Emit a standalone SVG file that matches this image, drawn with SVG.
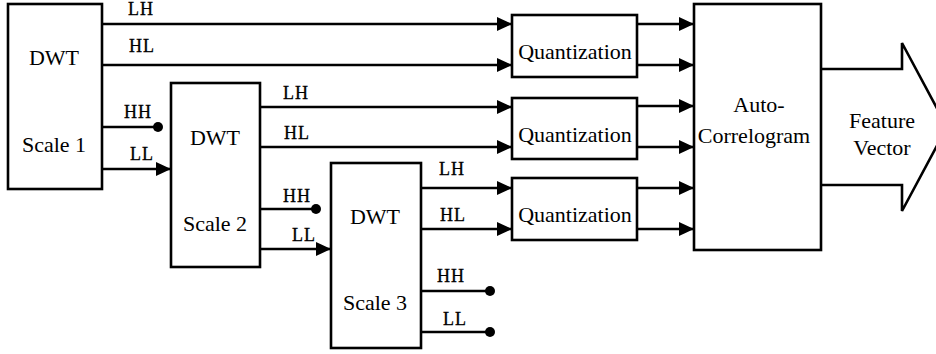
<svg xmlns="http://www.w3.org/2000/svg" width="936" height="354" viewBox="0 0 936 354" font-family="Liberation Serif, Times New Roman, DejaVu Serif, serif">
<style>
.box{fill:#fff;stroke:#000;stroke-width:2.6}
.ln{stroke:#000;stroke-width:2.6;fill:none}
.t{font-size:22px;text-anchor:middle;fill:#000}
.lb{font-size:18px;letter-spacing:1px;fill:#000;stroke:#000;stroke-width:0.3}
</style>
<defs>
<marker id="arr" markerUnits="userSpaceOnUse" markerWidth="16" markerHeight="14" refX="15" refY="7" orient="auto">
<path d="M0,0 L15,7 L0,14 Z" fill="#000"/>
</marker>
<marker id="dot" markerUnits="userSpaceOnUse" markerWidth="12" markerHeight="12" refX="6" refY="6">
<circle cx="6" cy="6" r="5" fill="#000"/>
</marker>
</defs>
<g id="connectors">
<line class="ln" x1="102" y1="24" x2="512" y2="24" marker-end="url(#arr)"/>
<line class="ln" x1="102" y1="65" x2="512" y2="65" marker-end="url(#arr)"/>
<line class="ln" x1="102" y1="127" x2="158" y2="127" marker-end="url(#dot)"/>
<line class="ln" x1="102" y1="169" x2="171" y2="169" marker-end="url(#arr)"/>
<line class="ln" x1="260" y1="107" x2="512" y2="107" marker-end="url(#arr)"/>
<line class="ln" x1="260" y1="147" x2="512" y2="147" marker-end="url(#arr)"/>
<line class="ln" x1="260" y1="209" x2="316" y2="209" marker-end="url(#dot)"/>
<line class="ln" x1="260" y1="249" x2="331" y2="249" marker-end="url(#arr)"/>
<line class="ln" x1="421" y1="188" x2="512" y2="188" marker-end="url(#arr)"/>
<line class="ln" x1="421" y1="229" x2="512" y2="229" marker-end="url(#arr)"/>
<line class="ln" x1="421" y1="291" x2="490" y2="291" marker-end="url(#dot)"/>
<line class="ln" x1="421" y1="332" x2="490" y2="332" marker-end="url(#dot)"/>
<line class="ln" x1="637" y1="24" x2="694" y2="24" marker-end="url(#arr)"/>
<line class="ln" x1="637" y1="65" x2="694" y2="65" marker-end="url(#arr)"/>
<line class="ln" x1="637" y1="106" x2="694" y2="106" marker-end="url(#arr)"/>
<line class="ln" x1="637" y1="147" x2="694" y2="147" marker-end="url(#arr)"/>
<line class="ln" x1="637" y1="188" x2="694" y2="188" marker-end="url(#arr)"/>
<line class="ln" x1="637" y1="229" x2="694" y2="229" marker-end="url(#arr)"/>
<polyline class="ln" points="821,69 902,69 902,43 947,127 902,211 902,185 821,185"/>
</g>
<g id="labels">
<text class="lb" x="128" y="15">LH</text>
<text class="lb" x="129" y="52">HL</text>
<text class="lb" x="124" y="118">HH</text>
<text class="lb" x="130" y="160">LL</text>
<text class="lb" x="283" y="99">LH</text>
<text class="lb" x="284" y="139">HL</text>
<text class="lb" x="283" y="202">HH</text>
<text class="lb" x="292" y="241">LL</text>
<text class="lb" x="439" y="175">LH</text>
<text class="lb" x="440" y="221">HL</text>
<text class="lb" x="437" y="282">HH</text>
<text class="lb" x="443" y="325">LL</text>
</g>
<g id="dwt1">
<rect class="box" x="8" y="4" width="94" height="185"/>
<text class="t" x="54" y="65">DWT</text>
<text class="t" x="54" y="152">Scale 1</text>
</g>
<g id="dwt2">
<rect class="box" x="171" y="83" width="89" height="184"/>
<text class="t" x="215" y="145">DWT</text>
<text class="t" x="215" y="231">Scale 2</text>
</g>
<g id="dwt3">
<rect class="box" x="331" y="163" width="90" height="185"/>
<text class="t" x="375" y="224">DWT</text>
<text class="t" x="375" y="310">Scale 3</text>
</g>
<g id="quant1">
<rect class="box" x="512" y="15" width="125" height="62"/>
<text class="t" x="575" y="59">Quantization</text>
</g>
<g id="quant2">
<rect class="box" x="512" y="98" width="125" height="61"/>
<text class="t" x="575" y="142">Quantization</text>
</g>
<g id="quant3">
<rect class="box" x="512" y="178" width="125" height="62"/>
<text class="t" x="575" y="222">Quantization</text>
</g>
<g id="autocorrelogram">
<rect class="box" x="694" y="4" width="127" height="246"/>
<text class="t" x="759" y="112">Auto-</text>
<text class="t" x="754" y="143">Correlogram</text>
</g>
<g id="feature-vector">
<text class="t" x="882" y="128">Feature</text>
<text class="t" x="882" y="155">Vector</text>
</g>
</svg>
